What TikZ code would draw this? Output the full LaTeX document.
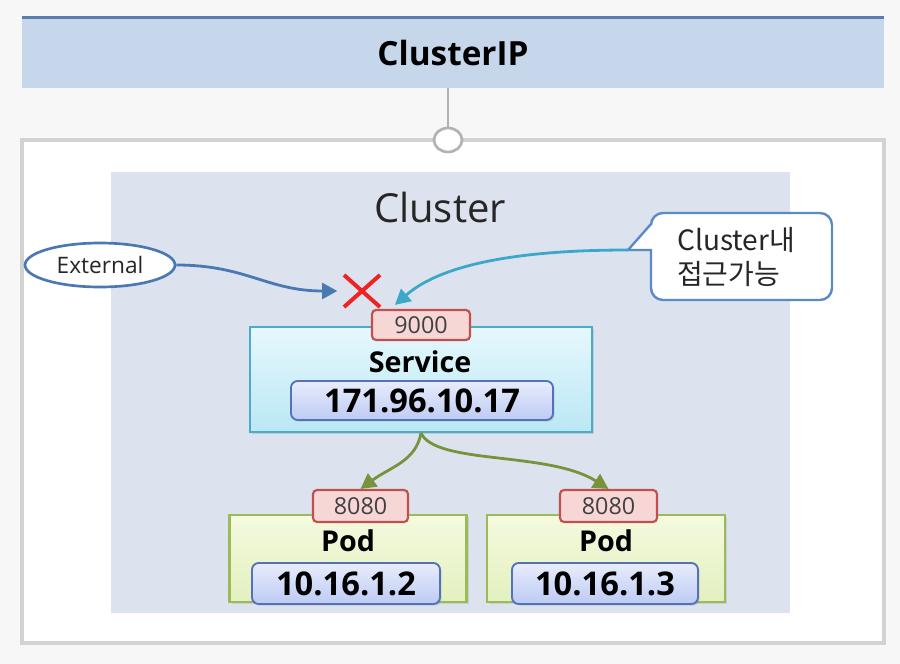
\documentclass[tikz,border=0pt]{standalone}
\usepackage{fontspec}
\setmainfont{Open Sans}
\newfontfamily\krfont{Noto Sans CJK KR}
\usetikzlibrary{arrows.meta,shadows,shapes.geometric,shapes.misc}
\definecolor{bgc}{HTML}{F7F7F7}
\definecolor{bandc}{HTML}{C6D6EB}
\definecolor{bandtop}{HTML}{5A7DAE}
\definecolor{framec}{HTML}{D2D2D2}
\definecolor{clusterc}{HTML}{DCE3EE}
\definecolor{extc}{HTML}{4A78B2}
\definecolor{calc}{HTML}{5B8AC6}
\definecolor{cyanc}{HTML}{3CA8C9}
\definecolor{portfill}{HTML}{F7D7D6}
\definecolor{portdraw}{HTML}{C0504D}
\definecolor{svctop}{HTML}{E6F8FD}
\definecolor{svcbot}{HTML}{BBE7F4}
\definecolor{svcdraw}{HTML}{4BACC6}
\definecolor{iptop}{HTML}{E8ECFC}
\definecolor{ipbot}{HTML}{BDCBF4}
\definecolor{ipdraw}{HTML}{5572B8}
\definecolor{podtop}{HTML}{F4FADF}
\definecolor{podbot}{HTML}{E3F0BF}
\definecolor{poddraw}{HTML}{9BBB59}
\definecolor{greenc}{HTML}{77933C}
\definecolor{xred}{HTML}{EE2424}
\tikzset{
  wh/.style 2 args={minimum width=#1*0.75pt, minimum height=#2*0.75pt, inner sep=0pt},
  port/.style={draw=portdraw, fill=portfill, line width=1.6pt, rounded corners=3pt,
    font=\fontsize{17.5}{20}\selectfont, text=black!75},
  svcbox/.style={draw=svcdraw, line width=1.6pt, top color=svctop, bottom color=svcbot,
    drop shadow={opacity=0.25, shadow xshift=1.5pt, shadow yshift=-1.5pt}},
  ipbox/.style={draw=ipdraw, line width=1.4pt, rounded corners=5pt, top color=iptop, bottom color=ipbot,
    font=\fontsize{24.5}{28}\selectfont\bfseries,
    drop shadow={opacity=0.25, shadow xshift=1.2pt, shadow yshift=-1.2pt}},
  podbox/.style={draw=poddraw, line width=1.6pt, top color=podtop, bottom color=podbot,
    drop shadow={opacity=0.2, shadow xshift=1.5pt, shadow yshift=-1.5pt}},
  boldlabel/.style={font=\fontsize{21.5}{25}\selectfont\bfseries, inner sep=0pt},
  tip/.style={-{Triangle[width=12pt,length=11.5pt]}, line width=2.1pt},
}
\begin{document}
\begin{tikzpicture}[x=0.75pt,y=-0.75pt]
\useasboundingbox (0,0) rectangle (900,664);
\fill[bgc] (0,0) rectangle (900,664);
% outer frame
\node[draw=framec, line width=3pt, fill=white, wh={862}{503}] (frame) at (453,391.5) {};
% top band
\node[fill=bandc, wh={862}{70}, font=\fontsize{25}{29}\selectfont\bfseries] (band) at (453,53) {ClusterIP};
\draw[bandtop, line width=2.5pt] (band.north west) -- (band.north east);
% connector circle
\node[ellipse, draw=framec!85!black, fill=white, line width=2pt, wh={28}{24}] (conn) at (448,140) {};
\draw[framec!85!black, line width=1pt] (conn.north |- band.south) -- (conn.north);
% cluster area
\node[fill=clusterc, wh={679}{441}] (cluster) at (450,392.5) {};
\node[font=\fontsize{30}{34}\selectfont, text=black!85] (clusterlbl) at (440,207) {Cluster};
% external
\node[ellipse, draw=extc, fill=white, line width=2pt, wh={150}{44}, font=\fontsize{17}{19}\selectfont, text=black!85] (ext) at (100,265) {External};
\node[cross out, draw=xred, line width=3pt, wh={32}{28}] (xmark) at (362,291) {};
\draw[tip, extc] (ext.east) .. controls +(70,0) and +(-70,0) .. ([xshift=-5pt]xmark.west);
% callout
\coordinate (ctip) at (628,250);
\draw[calc, line width=1.8pt, fill=white] (ctip) -- (651,224) {[rounded corners=9pt] -- (651,213) -- (832,213) -- (832,300) -- (651,300) -- (651,262)} -- (651,250) -- cycle;
\node[font=\krfont\fontsize{21}{25}\selectfont, align=left, text=black!85] (callout) at (736,257) {Cluster내\\접근가능};
% service
\node[svcbox, wh={342}{105}] (service) at (421,379.5) {};
\node[port, wh={98}{30}] (port9000) at (421,325) {9000};
\node[boldlabel] (svclbl) at (420,362) {Service};
\node[ipbox, wh={262}{39}] (svcip) at (422,400.5) {171.96.10.17};
\draw[tip, cyanc] (ctip) .. controls +(-130,0) and +(40,-35) .. ([xshift=18pt,yshift=3pt]port9000.north west);
% pods
\node[podbox, wh={237}{87}] (pod1) at (348,558.5) {};
\node[podbox, wh={238}{87}] (pod2) at (606,558.5) {};
\node[port, wh={95}{32}] (port1) at (360.5,506) {8080};
\node[port, wh={97}{32}] (port2) at (608.5,506) {8080};
\node[boldlabel] (pod1lbl) at (348,541) {Pod};
\node[boldlabel] (pod2lbl) at (606,541) {Pod};
\node[ipbox, wh={188}{41}] (pod1ip) at (346,583.5) {10.16.1.2};
\node[ipbox, wh={186}{41}] (pod2ip) at (605,583.5) {10.16.1.3};
\draw[tip, greenc] (service.south) .. controls +(-5,28) and +(30,-22) .. (port1.north);
\draw[tip, greenc] (service.south) .. controls +(15,32) and +(-60,-38) .. (port2.north);
\end{tikzpicture}
\end{document}
